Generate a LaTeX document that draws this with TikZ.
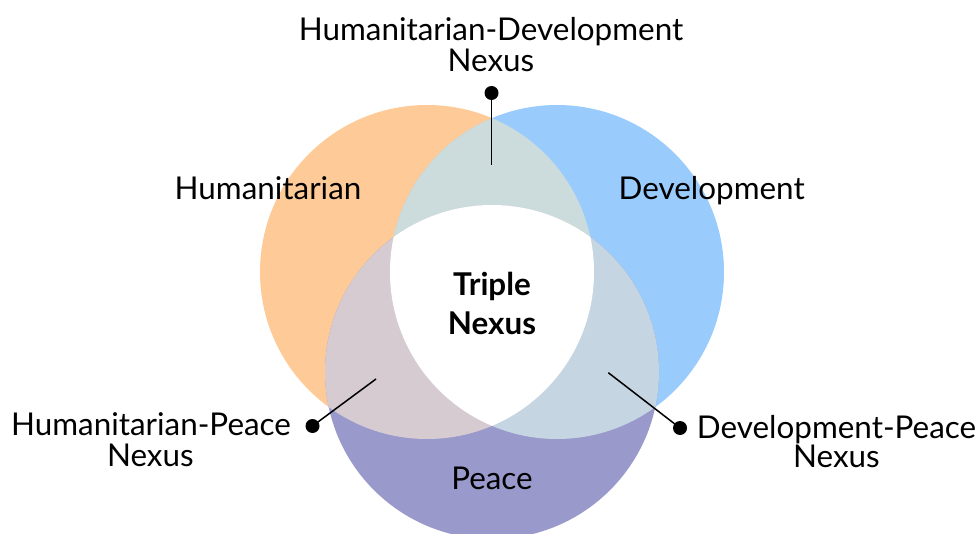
\documentclass[tikz,border=0pt]{standalone}
\usepackage{fontspec}
\setmainfont{Lato}
\definecolor{horange}{HTML}{FECB98}
\definecolor{dblue}{HTML}{99CBFC}
\definecolor{ppurple}{HTML}{9A99CB}
\definecolor{hdcol}{HTML}{CCDBDB}
\definecolor{hpcol}{HTML}{D6CBD0}
\definecolor{dpcol}{HTML}{C5D5E2}
\begin{document}
\begin{tikzpicture}[x=1pt,y=-1pt,
  lbl/.style={font=\fontsize{31.4}{33}\selectfont, inner sep=0pt, anchor=base},
  blbl/.style={lbl, font=\fontsize{31.4}{33}\selectfont\bfseries},
  dotnode/.style={circle, fill=black, inner sep=0pt, minimum size=14pt},
  connector/.style={line width=1.5pt, black}]
\useasboundingbox (0,0) rectangle (979,534);
\def\R{167pt}
\coordinate (hc) at (427,272);
\coordinate (dc) at (557,272);
\coordinate (pc) at (492,372);
% base circles
\fill[horange] (hc) circle[radius=\R];
\fill[dblue] (dc) circle[radius=\R];
\fill[ppurple] (pc) circle[radius=\R];
% pairwise overlaps
\begin{scope}
  \clip (hc) circle[radius=\R];
  \fill[hdcol] (dc) circle[radius=\R];
  \fill[hpcol] (pc) circle[radius=\R];
\end{scope}
\begin{scope}
  \clip (dc) circle[radius=\R];
  \fill[dpcol] (pc) circle[radius=\R];
\end{scope}
% triple overlap
\begin{scope}
  \clip (hc) circle[radius=\R];
  \clip (dc) circle[radius=\R];
  \fill[white] (pc) circle[radius=\R];
\end{scope}
% labels
\node[lbl] (hdA) at (491,40.7) {Humanitarian-Development};
\node[lbl] (hdB) at (491,71.5) {Nexus};
\node[lbl] (hum) at (268,199.3) {Humanitarian};
\node[lbl] (dev) at (711.7,199.3) {Development};
\node[lbl] (pea) at (492,489) {Peace};
\node[blbl] (tpA) at (492,295.5) {Triple};
\node[blbl] (tpB) at (492,334.3) {Nexus};
\node[lbl] (hpA) at (151,435) {Humanitarian-Peace};
\node[lbl] (hpB) at (150.4,466) {Nexus};
\node[lbl] (dpA) at (836.5,438) {Development-Peace};
\node[lbl] (dpB) at (836.5,467) {Nexus};
% connectors
\node[dotnode] (hddot) at (491.5,93) {};
\node[dotnode] (hpdot) at (312.5,426) {};
\node[dotnode] (dpdot) at (680,428) {};
\coordinate (hdend) at (491.5,165);
\coordinate (hpend) at (376,379);
\coordinate (dpend) at (608.3,372.7);
\draw[connector] (hddot.center) -- (hdend);
\draw[connector] (hpdot.center) -- (hpend);
\draw[connector] (dpdot.center) -- (dpend);
\end{tikzpicture}
\end{document}
